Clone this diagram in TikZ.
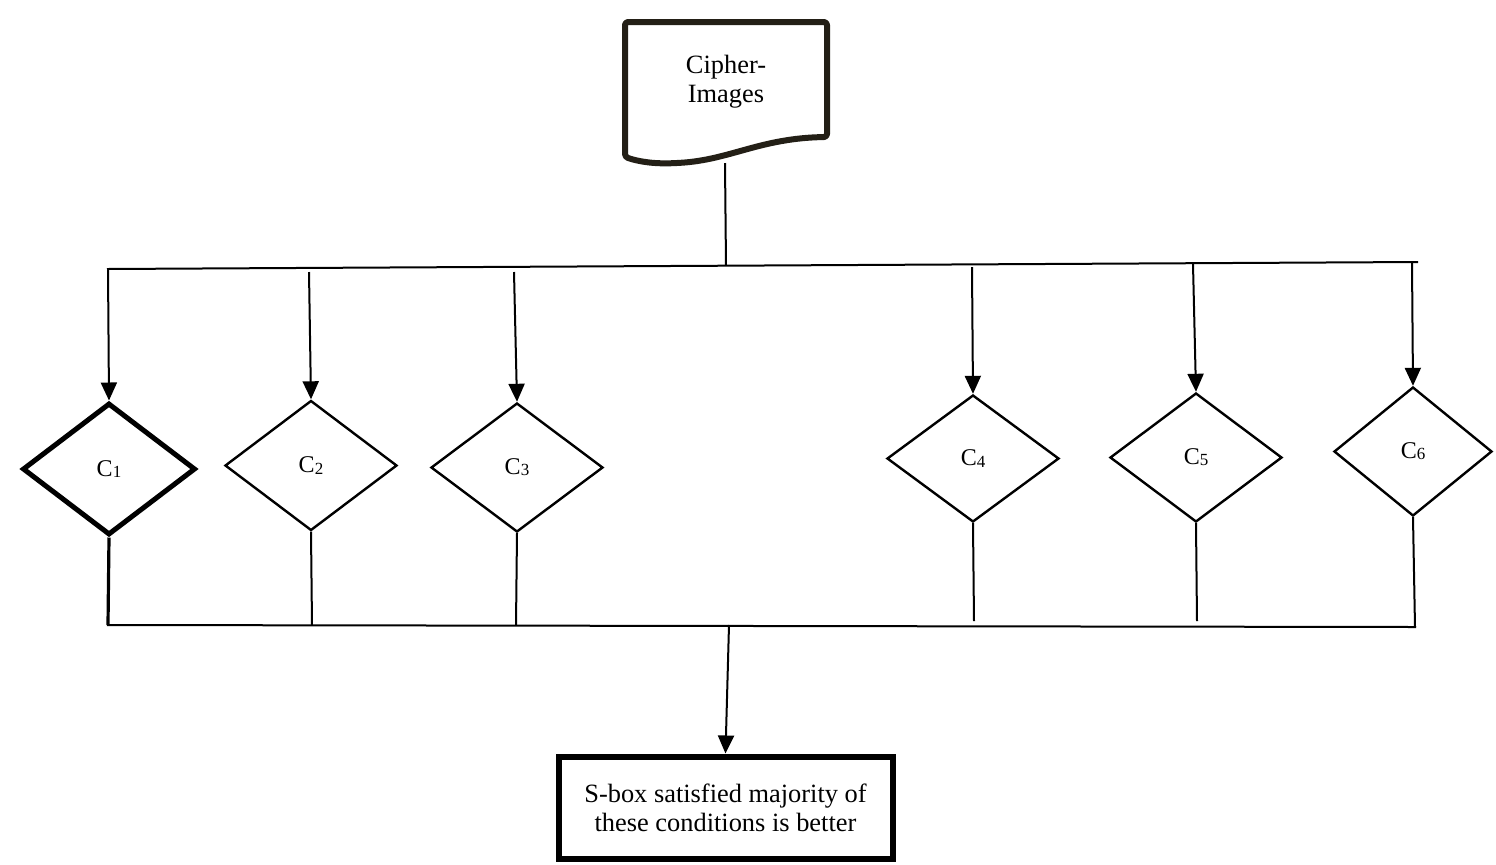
\documentclass[tikz,border=0pt]{standalone}
\usepackage{fontspec}
\setmainfont{Liberation Serif}
\usetikzlibrary{shapes.geometric,arrows.meta}
\begin{document}
\begin{tikzpicture}[x=0.5pt,y=-0.5pt,
  conn/.style={line width=1pt,black},
  arr/.style={conn,-{Triangle[width=8pt,length=9pt]}},
  cond/.style={diamond,draw,line width=1.2pt,inner sep=0pt,
    minimum width=86pt,minimum height=65pt,font=\fontsize{12}{14}\selectfont},
  docline/.style={line width=3pt,draw=docc,rounded corners=1.5pt,line join=round},
  resbox/.style={draw,line width=3pt,minimum width=167pt,minimum height=51pt,
    align=center,font=\fontsize{13.2}{14.5}\selectfont,inner sep=0pt}]
\definecolor{docc}{RGB}{35,31,22}
\useasboundingbox (0,0) rectangle (1496,864);
\newcommand{\subd}[1]{\raisebox{-0.6pt}{\fontsize{8.5}{8.5}\selectfont #1}}
% document shape
\draw[docline] (625,22) -- (827,22) -- (827,137)
  .. controls (760,138) and (730,160) .. (677,163)
  .. controls (655,164) and (640,162) .. (625,157) -- cycle;
\node[align=center,font=\fontsize{13.2}{14.5}\selectfont] (doc) at (726,82) {Cipher-\\Images};
\coordinate (db) at (725,163);
% top bus
\coordinate (tL) at (107,269);
\coordinate (tR) at (1418,262);
\coordinate (tm) at (726,265.5);
\coordinate (t1) at (108,269);
\coordinate (t2) at (309,272);
\coordinate (t3) at (514,272);
\coordinate (t4) at (972,267);
\coordinate (t5) at (1193,264);
\coordinate (t6) at (1412,262);
\draw[conn] (db) -- (tm);
\draw[conn] (tL) -- (tR);
% conditions
\node[cond,line width=2.5pt,minimum width=86.5pt,minimum height=66pt] (c1) at (109,469) {C\subd{1}};
\node[cond] (c2) at (311,465.5) {C\subd{2}};
\node[cond,minimum height=64.5pt] (c3) at (517,467.5) {C\subd{3}};
\node[cond,minimum height=63.5pt] (c4) at (973,458.5) {C\subd{4}};
\node[cond,minimum height=64.5pt] (c5) at (1196,457.5) {C\subd{5}};
\node[cond,minimum width=79pt,minimum height=64.5pt] (c6) at (1413,451.5) {C\subd{6}};
\draw[arr] (t1) -- (c1.north);
\draw[arr] (t2) -- (c2.north);
\draw[arr] (t3) -- (c3.north);
\draw[arr] (t4) -- (c4.north);
\draw[arr] (t5) -- (c5.north);
\draw[arr] (t6) -- (c6.north);
% bottom bus
\coordinate (bL) at (107,625);
\coordinate (bR) at (1416,627);
\coordinate (b1) at (108,625);
\coordinate (b2) at (312,625);
\coordinate (b3) at (516,625);
\coordinate (b4) at (974,621);
\coordinate (b5) at (1197,621);
\coordinate (b6) at (1415,627);
\coordinate (bm) at (729,625);
\draw[conn,line width=1.6pt] (c1.south) -- (b1);
\draw[conn] (c2.south) -- (b2);
\draw[conn] (c3.south) -- (b3);
\draw[conn] (c4.south) -- (b4);
\draw[conn] (c5.south) -- (b5);
\draw[conn] (c6.south) -- (b6);
\draw[conn] (bL) -- (bR);
% result
\node[resbox] (res) at (725.5,807.5) {S-box satisfied majority of\\these conditions is better};
\draw[arr] (bm) -- (res.north);
\end{tikzpicture}
\end{document}
